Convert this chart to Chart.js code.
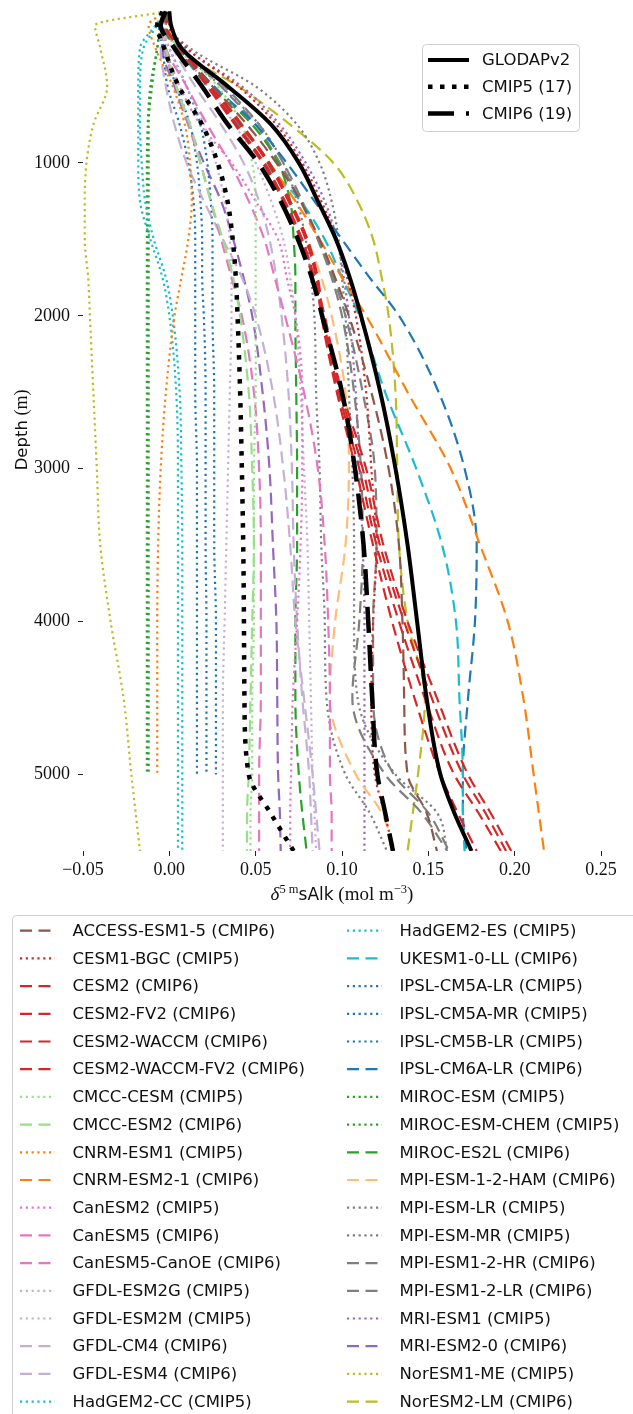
<!DOCTYPE html>
<html>
<head>
<meta charset="utf-8">
<script src="https://cdn.jsdelivr.net/npm/chart.js@4.4.1/dist/chart.umd.min.js"></script>
<style>
  html, body { margin: 0; padding: 0; background: #fff; }
  canvas { display: block; }
</style>
</head>
<body>
<canvas id="profile-chart" width="633" height="1414"></canvas>
<script>
// Depth levels (m) shared by every profile
const depths = [10, 100, 250, 500, 750, 1000, 1250, 1500, 1750, 2000, 2500, 3000, 3500, 4000, 4500, 5000, 5250, 5500];

// Observations and multi-model means
const glodap    = [0.0, 0.001, 0.007, 0.034, 0.059, 0.075, 0.086, 0.0965, 0.1045, 0.111, 0.1222, 0.131, 0.138, 0.1435, 0.149, 0.157, 0.165, 0.175];
const cmip5Mean = [-0.004, -0.007, -0.003, 0.0055, 0.019, 0.028, 0.0337, 0.0367, 0.0385, 0.0395, 0.041, 0.042, 0.0428, 0.0432, 0.0435, 0.046, 0.0585, 0.072];
const cmip6Mean = [-0.002, -0.005, 0.003, 0.019, 0.034, 0.0515, 0.0645, 0.0745, 0.0825, 0.0885, 0.1, 0.1075, 0.1125, 0.1152, 0.1175, 0.1205, 0.125, 0.1295];

// Individual models (null = no data at that depth)
const accessEsm15   = [0.0, -0.003, 0.004, 0.025, 0.045, 0.062, 0.076, 0.087, 0.096, 0.104, 0.117, 0.127, 0.133, 0.135, 0.136, 0.138, 0.149, 0.155];
const cesm1Bgc      = [0.0, 0.0, 0.01, 0.04, 0.062, 0.077, 0.088, 0.097, 0.103, 0.108, 0.114, 0.117, 0.12, 0.118, 0.117, 0.119, 0.1245, 0.13];
const cesm2         = [0.0, -0.002, 0.006, 0.022, 0.038, 0.054, 0.066, 0.076, 0.083, 0.089, 0.1, 0.114, 0.124, 0.138, 0.155, 0.173, 0.186, 0.198];
const cesm2Fv2      = [0.0, -0.002, 0.007, 0.024, 0.041, 0.057, 0.069, 0.079, 0.085, 0.088, 0.097, 0.108, 0.118, 0.129, 0.142, 0.157, 0.167, 0.178];
const cesm2Waccm    = [0.0, -0.002, 0.006, 0.023, 0.039, 0.055, 0.067, 0.077, 0.084, 0.09, 0.099, 0.112, 0.122, 0.136, 0.152, 0.17, 0.183, 0.195];
const cesm2WaccmFv2 = [0.0, -0.002, 0.007, 0.025, 0.042, 0.058, 0.07, 0.08, 0.086, 0.089, 0.098, 0.11, 0.12, 0.133, 0.148, 0.165, 0.179, 0.192];
const cmccCesm      = [0.0, -0.004, 0.006, 0.028, 0.042, 0.048, 0.05, 0.05, 0.05, 0.05, 0.05, 0.049, 0.049, 0.049, 0.048, 0.048, 0.047, 0.047];
const cmccEsm2      = [0.0, -0.004, -0.002, 0.004, 0.012, 0.018, 0.024, 0.031, 0.037, 0.041, 0.046, 0.048, 0.049, 0.048, 0.047, 0.046, 0.045, 0.045];
const cnrmEsm1      = [-0.002, -0.012, -0.008, 0.002, 0.009, 0.012, 0.013, 0.011, 0.007, 0.003, -0.002, -0.005, -0.0065, -0.007, -0.007, -0.007, null, null];
const cnrmEsm21     = [0.0, -0.002, 0.006, 0.024, 0.042, 0.058, 0.073, 0.087, 0.1, 0.114, 0.138, 0.163, 0.18, 0.196, 0.205, 0.211, 0.214, 0.217];
const canEsm2       = [0.0, -0.004, -0.002, 0.006, 0.018, 0.036, 0.05, 0.063, 0.068, 0.073, 0.077, 0.077, 0.076, 0.074, 0.0715, 0.0705, 0.07, 0.07];
const canEsm5       = [0.0, -0.004, -0.002, 0.01, 0.022, 0.035, 0.046, 0.055, 0.061, 0.067, 0.078, 0.086, 0.09, 0.092, 0.093, 0.093, 0.094, 0.094];
const canEsm5CanOE  = [0.0, -0.004, -0.003, 0.004, 0.011, 0.018, 0.024, 0.03, 0.036, 0.042, 0.049, 0.052, 0.053, 0.053, 0.053, 0.052, 0.052, 0.052];
const gfdlEsm2g     = [0.0, -0.004, 0.0, 0.01, 0.02, 0.027, 0.032, 0.035, 0.036, 0.036, 0.035, 0.034, 0.033, 0.032, 0.031, 0.031, 0.031, 0.031];
const gfdlEsm2m     = [0.0, -0.003, 0.006, 0.022, 0.038, 0.05, 0.059, 0.066, 0.07, 0.073, 0.076, 0.078, 0.08, 0.081, 0.082, 0.083, 0.084, 0.085];
const gfdlCm4       = [0.0, -0.004, -0.005, -0.002, 0.003, 0.01, 0.02, 0.031, 0.042, 0.05, 0.06, 0.066, 0.07, 0.073, 0.078, 0.083, 0.085, 0.087];
const gfdlEsm4      = [0.0, -0.004, 0.002, 0.015, 0.03, 0.043, 0.052, 0.058, 0.062, 0.065, 0.069, 0.071, 0.072, 0.074, 0.077, 0.081, 0.082, 0.083];
const hadGem2Cc     = [-0.002, -0.008, -0.017, -0.018, -0.018, -0.018, -0.017, -0.011, -0.004, 0.0, 0.004, 0.005, 0.005, 0.005, 0.005, 0.005, 0.005, 0.005];
const hadGem2Es     = [-0.002, -0.007, -0.015, -0.017, -0.017, -0.016, -0.014, -0.009, -0.002, 0.002, 0.006, 0.007, 0.0075, 0.0075, 0.0075, 0.0075, 0.0075, 0.0075];
const ukesm10Ll     = [0.0, -0.002, 0.005, 0.022, 0.04, 0.055, 0.076, 0.09, 0.1, 0.11, 0.125, 0.143, 0.158, 0.166, 0.168, 0.17, 0.17, 0.171];
const ipslCm5aLr    = [-0.002, -0.006, -0.004, -0.001, 0.006, 0.011, 0.014, 0.015, 0.015, 0.015, 0.015, 0.016, 0.016, 0.016, 0.016, 0.016, null, null];
const ipslCm5aMr    = [-0.002, -0.006, -0.003, 0.004, 0.012, 0.016, 0.018, 0.019, 0.019, 0.02, 0.021, 0.021, 0.021, 0.0215, 0.0215, 0.0215, null, null];
const ipslCm5bLr    = [-0.002, -0.005, 0.0, 0.01, 0.018, 0.022, 0.024, 0.025, 0.025, 0.025, 0.026, 0.026, 0.026, 0.027, 0.027, 0.027, null, null];
const ipslCm6aLr    = [0.0, -0.002, 0.006, 0.026, 0.05, 0.068, 0.084, 0.1, 0.116, 0.133, 0.156, 0.171, 0.178, 0.177, 0.173, 0.17, 0.17, 0.172];
const mirocEsm      = [-0.002, -0.005, -0.007, -0.01, -0.012, -0.012, -0.012, -0.012, -0.012, -0.012, -0.012, -0.012, -0.012, -0.012, -0.012, -0.012, null, null];
const mirocEsmChem  = [-0.002, -0.005, -0.007, -0.011, -0.0125, -0.013, -0.013, -0.013, -0.013, -0.013, -0.013, -0.013, -0.013, -0.013, -0.013, -0.013, null, null];
const mirocEs2l     = [0.0, -0.002, 0.006, 0.025, 0.048, 0.063, 0.07, 0.072, 0.073, 0.073, 0.0735, 0.074, 0.074, 0.073, 0.073, 0.075, 0.077, 0.0795];
const mpiEsm12Ham   = [0.0, -0.002, 0.006, 0.025, 0.042, 0.057, 0.07, 0.08, 0.088, 0.094, 0.102, 0.104, 0.102, 0.096, 0.093, 0.108, 0.123, 0.131];
const mpiEsmLr      = [0.0, -0.002, 0.006, 0.03, 0.052, 0.066, 0.074, 0.079, 0.082, 0.084, 0.085, 0.087, 0.088, 0.09, 0.091, 0.102, 0.116, 0.126];
const mpiEsmMr      = [0.0, 0.0, 0.012, 0.05, 0.074, 0.087, 0.094, 0.098, 0.1, 0.102, 0.104, 0.106, 0.107, 0.107, 0.109, 0.131, 0.155, 0.161];
const mpiEsm12Hr    = [0.0, -0.002, 0.008, 0.032, 0.052, 0.066, 0.077, 0.086, 0.094, 0.1, 0.107, 0.111, 0.112, 0.11, 0.106, 0.125, 0.146, 0.161];
const mpiEsm12Lr    = [0.0, -0.002, 0.007, 0.03, 0.05, 0.064, 0.076, 0.086, 0.095, 0.102, 0.112, 0.119, 0.12, 0.118, 0.118, 0.13, 0.15, 0.162];
const mriEsm1       = [0.0, 0.0, 0.01, 0.042, 0.064, 0.079, 0.09, 0.097, 0.101, 0.104, 0.108, 0.11, 0.112, 0.113, 0.113, 0.113, 0.113, 0.113];
const mriEsm20      = [0.0, -0.004, -0.004, 0.003, 0.011, 0.02, 0.03, 0.037, 0.043, 0.048, 0.054, 0.058, 0.06, 0.062, 0.0625, 0.063, 0.064, 0.0645];
const norEsm1Me     = [-0.002, -0.043, -0.04, -0.036, -0.044, -0.048, -0.049, -0.049, -0.047, -0.046, -0.044, -0.042, -0.04, -0.034, -0.0265, -0.022, -0.0195, -0.017];
const norEsm2Lm     = [0.0, 0.0, 0.004, 0.04, 0.07, 0.095, 0.109, 0.118, 0.123, 0.127, 0.131, 0.132, 0.133, 0.138, 0.148, 0.144, 0.141, 0.138];

// Legend order (two columns of 18)
const modelNames = [
  'ACCESS-ESM1-5 (CMIP6)', 'CESM1-BGC (CMIP5)', 'CESM2 (CMIP6)', 'CESM2-FV2 (CMIP6)', 'CESM2-WACCM (CMIP6)',
  'CESM2-WACCM-FV2 (CMIP6)', 'CMCC-CESM (CMIP5)', 'CMCC-ESM2 (CMIP6)', 'CNRM-ESM1 (CMIP5)', 'CNRM-ESM2-1 (CMIP6)',
  'CanESM2 (CMIP5)', 'CanESM5 (CMIP6)', 'CanESM5-CanOE (CMIP6)', 'GFDL-ESM2G (CMIP5)', 'GFDL-ESM2M (CMIP5)',
  'GFDL-CM4 (CMIP6)', 'GFDL-ESM4 (CMIP6)', 'HadGEM2-CC (CMIP5)',
  'HadGEM2-ES (CMIP5)', 'UKESM1-0-LL (CMIP6)', 'IPSL-CM5A-LR (CMIP5)', 'IPSL-CM5A-MR (CMIP5)', 'IPSL-CM5B-LR (CMIP5)',
  'IPSL-CM6A-LR (CMIP6)', 'MIROC-ESM (CMIP5)', 'MIROC-ESM-CHEM (CMIP5)', 'MIROC-ES2L (CMIP6)', 'MPI-ESM-1-2-HAM (CMIP6)',
  'MPI-ESM-LR (CMIP5)', 'MPI-ESM-MR (CMIP5)', 'MPI-ESM1-2-HR (CMIP6)', 'MPI-ESM1-2-LR (CMIP6)', 'MRI-ESM1 (CMIP5)',
  'MRI-ESM2-0 (CMIP6)', 'NorESM1-ME (CMIP5)', 'NorESM2-LM (CMIP6)'
];
const modelValues = [
  accessEsm15, cesm1Bgc, cesm2, cesm2Fv2, cesm2Waccm, cesm2WaccmFv2, cmccCesm, cmccEsm2, cnrmEsm1, cnrmEsm21,
  canEsm2, canEsm5, canEsm5CanOE, gfdlEsm2g, gfdlEsm2m, gfdlCm4, gfdlEsm4, hadGem2Cc,
  hadGem2Es, ukesm10Ll, ipslCm5aLr, ipslCm5aMr, ipslCm5bLr, ipslCm6aLr, mirocEsm, mirocEsmChem, mirocEs2l, mpiEsm12Ham,
  mpiEsmLr, mpiEsmMr, mpiEsm12Hr, mpiEsm12Lr, mriEsm1, mriEsm20, norEsm1Me, norEsm2Lm
];

// Axis ticks
const xTickValues = [-0.05, 0.0, 0.05, 0.10, 0.15, 0.20, 0.25];
const yTickValues = [1000, 2000, 3000, 4000, 5000];

// Colours per model family
const modelColors = [
  '#8c564b', '#d62728', '#d62728', '#d62728', '#d62728', '#d62728', '#98df8a', '#98df8a', '#ff7f0e', '#ff7f0e',
  '#e377c2', '#e377c2', '#e377c2', '#c5b0d5', '#c5b0d5', '#c5b0d5', '#c5b0d5', '#17becf',
  '#17becf', '#17becf', '#1f77b4', '#1f77b4', '#1f77b4', '#1f77b4', '#2ca02c', '#2ca02c', '#2ca02c', '#ffbb78',
  '#7f7f7f', '#7f7f7f', '#7f7f7f', '#7f7f7f', '#9467bd', '#9467bd', '#bcbd22', '#bcbd22'
];

const THIN = 2.2;
const DOTTED = [2.2, 3.6];
const DASHED = [12, 6.5];
const MEAN_DOTTED = [4.5, 7.5];
const MEAN_DASHED = [26, 12];

function profile(values) {
  const pts = [];
  depths.forEach((d, i) => {
    if (values[i] !== null) pts.push({ x: values[i], y: d });
  });
  return pts;
}

const datasets = [
  { label: 'GLODAPv2', data: profile(glodap), borderColor: '#000', borderWidth: 4, borderDash: [], order: 0 },
  { label: 'CMIP6 (19)', data: profile(cmip6Mean), borderColor: '#000', borderWidth: 4.5, borderDash: MEAN_DASHED, order: 0 },
  { label: 'CMIP5 (17)', data: profile(cmip5Mean), borderColor: '#000', borderWidth: 4.5, borderDash: MEAN_DOTTED, order: 0 }
];
modelNames.forEach((name, i) => {
  datasets.push({
    label: name,
    data: profile(modelValues[i]),
    borderColor: modelColors[i],
    borderWidth: THIN,
    borderDash: name.includes('CMIP5') ? DOTTED : DASHED,
    order: 1
  });
});
datasets.forEach(ds => {
  ds.fill = false;
  ds.pointRadius = 0;
  ds.cubicInterpolationMode = 'monotone';
});

// Helpers for the hand drawn parts (axis titles, legends)
function roundBox(ctx, x, y, w, h, r) {
  ctx.beginPath();
  ctx.moveTo(x + r, y);
  ctx.lineTo(x + w - r, y);
  ctx.arcTo(x + w, y, x + w, y + r, r);
  ctx.lineTo(x + w, y + h - r);
  ctx.arcTo(x + w, y + h, x + w - r, y + h, r);
  ctx.lineTo(x + r, y + h);
  ctx.arcTo(x, y + h, x, y + h - r, r);
  ctx.lineTo(x, y + r);
  ctx.arcTo(x, y, x + r, y, r);
  ctx.closePath();
}

function sampleLine(ctx, x0, x1, y, color, width, dash) {
  ctx.save();
  ctx.strokeStyle = color;
  ctx.lineWidth = width;
  ctx.setLineDash(dash);
  ctx.lineCap = 'butt';
  ctx.beginPath();
  ctx.moveTo(x0, y);
  ctx.lineTo(x1, y);
  ctx.stroke();
  ctx.restore();
}

function drawPieces(ctx, pieces, cx, baseline) {
  let total = 0;
  pieces.forEach(p => { ctx.font = p.font; p.w = ctx.measureText(p.text).width; total += p.w; });
  let x = cx - total / 2;
  ctx.textAlign = 'left';
  ctx.textBaseline = 'alphabetic';
  pieces.forEach(p => {
    ctx.font = p.font;
    ctx.fillText(p.text, x, baseline + (p.dy || 0));
    x += p.w;
  });
}

const LEGEND_FONT = '16.5px "DejaVu Sans"';

const overlay = {
  id: 'overlay',
  afterDraw(chart) {
    const ctx = chart.ctx;
    const area = chart.chartArea;
    ctx.save();
    ctx.fillStyle = '#111';

    // x axis title
    drawPieces(ctx, [
      { text: 'δ', font: 'italic 19px "Liberation Serif"' },
      { text: '5 m', font: '12.5px "Liberation Serif"', dy: -7 },
      { text: 'sAlk', font: '17px "DejaVu Sans"' },
      { text: ' (mol m', font: '19px "Liberation Serif"' },
      { text: '−3', font: '12.5px "Liberation Serif"', dy: -7 },
      { text: ')', font: '19px "Liberation Serif"' }
    ], (area.left + area.right) / 2, 900);

    // y axis title
    ctx.save();
    ctx.translate(21, 430);
    ctx.rotate(-Math.PI / 2);
    drawPieces(ctx, [
      { text: 'Depth', font: LEGEND_FONT },
      { text: ' (m)', font: '18px "Liberation Serif"' }
    ], 0, 6);
    ctx.restore();

    // inner legend (observations and means)
    ctx.fillStyle = 'rgba(255,255,255,0.85)';
    roundBox(ctx, 422.5, 44.5, 157, 87, 4);
    ctx.fill();
    ctx.strokeStyle = '#d0d0d0';
    ctx.lineWidth = 1;
    ctx.stroke();
    const inner = [datasets[0], datasets[2], datasets[1]];
    ctx.font = LEGEND_FONT;
    ctx.textAlign = 'left';
    ctx.textBaseline = 'middle';
    inner.forEach((ds, i) => {
      const y = 60 + i * 26.8;
      sampleLine(ctx, 428, 469, y, ds.borderColor, ds.borderWidth, ds.borderDash);
      ctx.fillStyle = '#111';
      ctx.fillText(ds.label, 482, y + 1);
    });

    // model legend below the axes
    ctx.fillStyle = '#fff';
    roundBox(ctx, 12.5, 915.5, 640, 520, 4);
    ctx.fill();
    ctx.strokeStyle = '#d0d0d0';
    ctx.stroke();
    const models = datasets.slice(3);
    models.forEach((ds, i) => {
      const col = i < 18 ? 0 : 1;
      const row = i % 18;
      const y = 930.7 + row * 27.7;
      const x0 = col === 0 ? 20 : 347;
      sampleLine(ctx, x0, x0 + 35, y, ds.borderColor, ds.borderWidth, ds.borderDash);
      ctx.fillStyle = '#111';
      ctx.font = LEGEND_FONT;
      ctx.textAlign = 'left';
      ctx.textBaseline = 'middle';
      ctx.fillText(ds.label, x0 + 52.5, y + 1);
    });
    ctx.restore();
  }
};

const ctx = document.getElementById('profile-chart').getContext('2d');
const profileChart = new Chart(ctx, {
  type: 'line',
  data: { datasets: datasets },
  options: {
    indexAxis: 'y',
    responsive: false,
    animation: false,
    devicePixelRatio: 1,
    layout: { padding: { top: 10, right: 32, left: 0, bottom: 0 } },
    plugins: {
      legend: { display: false },
      tooltip: { enabled: false },
      title: { display: false }
    },
    elements: { point: { radius: 0 } },
    scales: {
      x: {
        type: 'linear',
        position: 'bottom',
        min: -0.05,
        max: 0.25,
        afterFit: scale => { scale.height = 563; },
        afterBuildTicks: scale => { scale.ticks = xTickValues.map(v => ({ value: v })); },
        border: { display: false },
        grid: { display: true, drawOnChartArea: false, drawTicks: true, tickLength: 5, color: '#222', lineWidth: 1 },
        ticks: {
          color: '#111',
          padding: 3,
          maxRotation: 0,
          autoSkip: false,
          font: { family: 'Liberation Serif', size: 18 },
          callback: v => (v < -1e-9 ? '−' : '') + Math.abs(v).toFixed(2)
        }
      },
      y: {
        type: 'linear',
        reverse: true,
        min: 0,
        max: 5500,
        afterFit: scale => {
          scale.width = 83;
          scale.paddingTop = 0;
          scale.paddingBottom = 0;
        },
        afterBuildTicks: scale => { scale.ticks = yTickValues.map(v => ({ value: v })); },
        border: { display: false },
        grid: { display: true, drawOnChartArea: false, drawTicks: true, tickLength: 5, color: '#222', lineWidth: 1 },
        ticks: {
          color: '#111',
          padding: 8,
          autoSkip: false,
          font: { family: 'Liberation Serif', size: 18 },
          callback: v => String(v)
        }
      }
    }
  },
  plugins: [overlay]
});
</script>
</body>
</html>
